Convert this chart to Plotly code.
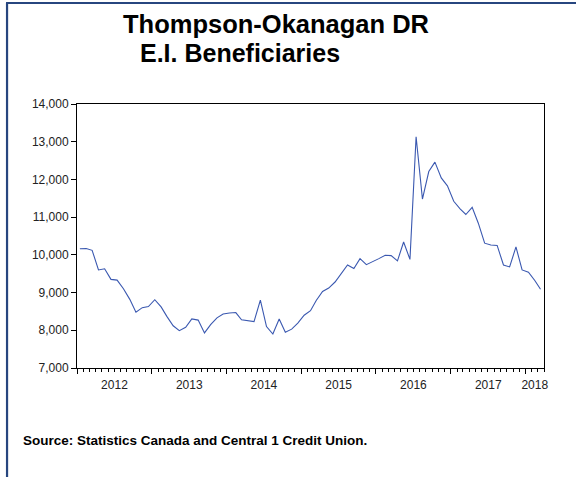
import pandas as pd
import plotly.graph_objects as go

# Monthly E.I. beneficiaries, Thompson-Okanagan development region, Jan 2012 - Mar 2018
start_month = "2012-01-01"
beneficiaries = [
    10160, 10170, 10120, 9600, 9630, 9350, 9330, 9100, 8820, 8480, 8600, 8630,
    8810, 8620, 8370, 8120, 7990, 8080, 8300, 8270, 7930, 8150, 8330, 8430,
    8460, 8470, 8280, 8260, 8230, 8800, 8100, 7900, 8300, 7950, 8030, 8190,
    8400, 8520, 8790, 9030, 9120, 9280, 9500, 9730, 9640, 9900, 9740, 9810,
    9900, 9990, 9980, 9840, 10340, 9880, 13130, 11480, 12210, 12460, 12040, 11830,
    11420, 11220, 11070, 11260, 10840, 10310, 10260, 10250, 9730, 9680, 10210, 9600,
    9540, 9320, 9090,
]
year_labels = ["2012", "2013", "2014", "2015", "2016", "2017", "2018"]
y_ticks = [7000, 8000, 9000, 10000, 11000, 12000, 13000, 14000]

months = pd.date_range(start_month, periods=len(beneficiaries), freq="MS")
month_mid = months + pd.Timedelta(days=14)

x_start = months[0]
x_end = months[-1] + pd.offsets.MonthBegin(1)

# year labels sit in the middle of the visible part of each year
label_pos = []
for y in year_labels:
    a = max(pd.Timestamp(f"{y}-01-01"), x_start)
    b = min(pd.Timestamp(f"{int(y) + 1}-01-01"), x_end)
    label_pos.append(a + (b - a) / 2)

W, H = 576, 477
L, R, T, B = 77, 544.3, 104.3, 368.3


def px(x):
    return (x - L) / (R - L)


def py(y):
    return (B - y) / (B - T)


FONT = "Liberation Sans, Arial, sans-serif"
NAVY = "#27467f"

fig = go.Figure()
fig.add_trace(go.Scatter(
    x=month_mid, y=beneficiaries, mode="lines",
    line=dict(color="#3a58b0", width=1.1),
    showlegend=False, hoverinfo="x+y",
))
fig.add_trace(go.Scatter(x=[], y=[], xaxis="x2", showlegend=False))

fig.update_layout(
    width=W, height=H,
    margin=dict(l=L, r=W - R, t=T, b=H - B, pad=0),
    paper_bgcolor="white", plot_bgcolor="white",
    font=dict(family=FONT, size=12, color="#222222"),
    xaxis=dict(
        type="date", range=[x_start, x_end],
        showgrid=False, zeroline=False,
        showline=True, linecolor="black", linewidth=1, mirror=True,
        ticks="outside", ticklen=5, tickwidth=1, tickcolor="black",
        tick0="2012-01-01", dtick="M12", showticklabels=False,
        minor=dict(ticks="outside", ticklen=3, tickwidth=1, tickcolor="black",
                   dtick="M1", showgrid=False),
    ),
    xaxis2=dict(
        type="date", range=[x_start, x_end], overlaying="x", side="bottom",
        showgrid=False, zeroline=False, showline=False,
        tickmode="array", tickvals=label_pos, ticktext=year_labels,
        ticks="outside", ticklen=6, tickcolor="rgba(0,0,0,0)",
        tickfont=dict(family=FONT, size=12, color="#222222"),
    ),
    yaxis=dict(
        range=[7000, 14000], tickmode="array", tickvals=y_ticks,
        tickformat=",d",
        showgrid=False, zeroline=False,
        showline=True, linecolor="black", linewidth=1, mirror=True,
        ticks="outside", ticklen=5, tickwidth=1, tickcolor="black",
        tickfont=dict(family=FONT, size=12, color="#222222"),
    ),
    annotations=[
        dict(text="<b>Thompson-Okanagan DR</b>", xref="paper", yref="paper",
             x=px(121), y=py(24.5), xanchor="left", yanchor="middle",
             showarrow=False, font=dict(family=FONT, size=25.5, color="black")),
        dict(text="<b>E.I. Beneficiaries</b>", xref="paper", yref="paper",
             x=px(138.5), y=py(53), xanchor="left", yanchor="middle",
             showarrow=False, font=dict(family=FONT, size=25, color="black")),
        dict(text="<b>Source: Statistics Canada and Central 1 Credit Union.</b>",
             xref="paper", yref="paper", x=px(21), y=py(440.5),
             xanchor="left", yanchor="middle", showarrow=False,
             font=dict(family=FONT, size=13.5, color="black")),
    ],
    shapes=[
        dict(type="line", xref="paper", yref="paper",
             x0=px(7), x1=px(7), y0=py(3), y1=py(H + 5),
             line=dict(color=NAVY, width=2.2)),
        dict(type="line", xref="paper", yref="paper",
             x0=px(6), x1=px(W + 5), y0=py(3.3), y1=py(3.3),
             line=dict(color=NAVY, width=2.2)),
    ],
)

fig.write_html("out.html")
